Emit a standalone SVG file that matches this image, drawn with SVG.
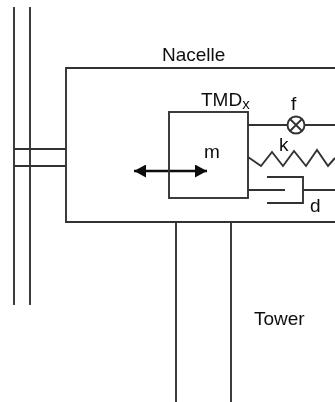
<svg xmlns="http://www.w3.org/2000/svg" width="335" height="402" viewBox="0 0 335 402">
<defs>
<marker id="ah" markerUnits="userSpaceOnUse" markerWidth="13" markerHeight="13" refX="12" refY="6.5" orient="auto-start-reverse"><path d="M0 0L12 6.5L0 13Z" fill="#111"/></marker>
<filter id="b" x="-5%" y="-5%" width="110%" height="110%"><feGaussianBlur stdDeviation="0.5"/></filter>
</defs>
<style>
.l{fill:none;stroke:#333;stroke-width:1.9}
.t{font-family:"Liberation Sans",Arial,sans-serif;font-size:19px;fill:#111}
</style>
<rect width="335" height="402" fill="#fff"/>
<g filter="url(#b)">
<g id="connectors">
<path class="l" d="M248 125H287M305 125H335"/>
<path class="l" d="M248 157L261 166L272 152L283 166L294 151L306 166L317 150L328 166L335 158"/>
<path class="l" d="M248 190H285M267 177H303V203H267M303 190H335"/>
<path d="M134 171H207" fill="none" stroke="#111" stroke-width="2.6" marker-start="url(#ah)" marker-end="url(#ah)"/>
</g>
<g id="blade"><path class="l" d="M14 7V305M30 7V305M14 149H66M14 166H66"/></g>
<g id="nacelle"><path class="l" d="M335 68H66V222H335"/><text class="t" x="162" y="61">Nacelle</text></g>
<g id="tower"><path class="l" d="M176 222V402M231 222V402"/><text class="t" x="254" y="325">Tower</text></g>
<g id="tmd"><rect class="l" x="169" y="112" width="79" height="86"/><text class="t" x="201" y="106">TMD<tspan font-size="15" dy="3">x</tspan></text><text class="t" x="204" y="158">m</text></g>
<g id="friction"><circle class="l" cx="296" cy="125" r="8.5"/><path class="l" d="M290 119L302 131M302 119L290 131"/><text class="t" x="291" y="110">f</text></g>
<g id="spring"><text class="t" x="279" y="151">k</text></g>
<g id="damper"><text class="t" x="310" y="212">d</text></g>
</g>
</svg>
